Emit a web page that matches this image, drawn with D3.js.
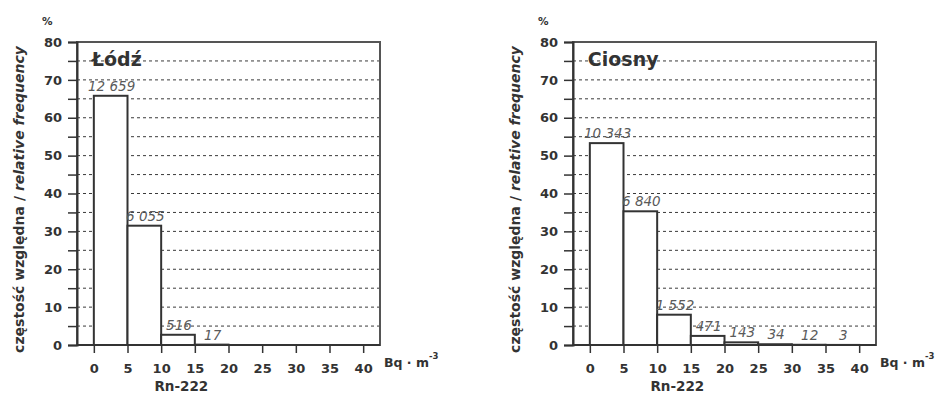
<!DOCTYPE html>
<html><head><meta charset="utf-8">
<script src="https://cdn.jsdelivr.net/npm/d3@7"></script>
<style>
html,body{margin:0;padding:0;background:#fff;}
svg{display:block;}
text{font-family:"DejaVu Sans",sans-serif;}
</style></head>
<body>
<svg id="c" width="939" height="393"></svg>
<script>
// ---- data ----
const binStarts = [0, 5, 10, 15, 20, 25, 30, 35];
const binWidth = 5;
const xTicks = [0, 5, 10, 15, 20, 25, 30, 35, 40];
const yTicksMajor = [0, 10, 20, 30, 40, 50, 60, 70, 80];
const yTicksMinor = [5, 15, 25, 35, 45, 55, 65, 75];
const lodzPct = [65.8, 31.5, 2.7, 0.1];
const lodzCounts = ["12 659", "6 055", "516", "17"];
const ciosnyPct = [53.3, 35.3, 8.0, 2.4, 0.7, 0.2, 0.06, 0.02];
const ciosnyCounts = ["10 343", "6 840", "1 552", "471", "143", "34", "12", "3"];
const titles = ["Łódź", "Ciosny"];
const yTitleA = "częstość względna / ";
const yTitleB = "relative frequency";
const xTitle = "Rn-222";
const unitA = "Bq · m";
const unitSup = "-3";

const svg = d3.select("#c");
const dark = "#333";

function panel(offset, title, pct, counts) {
  const g = svg.append("g").attr("transform", `translate(${offset},0)`);
  const x = d3.scaleLinear().domain([-2.5, 42.5]).range([77, 380]);
  const y = d3.scaleLinear().domain([0, 80]).range([345, 42]);

  // dashed grid
  g.selectAll(".grid").data(yTicksMinor.concat(yTicksMajor.filter(v => v > 0 && v < 80)))
    .enter().append("line")
    .attr("x1", x.range()[0]).attr("x2", x.range()[1])
    .attr("y1", d => y(d)).attr("y2", d => y(d))
    .attr("stroke", "#3a3a3a").attr("stroke-width", 1).attr("stroke-dasharray", "3,3");

  // frame
  g.append("rect").attr("x", x.range()[0]).attr("y", y(80))
    .attr("width", x.range()[1] - x.range()[0]).attr("height", y(0) - y(80))
    .attr("fill", "none").attr("stroke", "#555").attr("stroke-width", 2);

  // bars
  const bars = pct.map((v, i) => ({ s: binStarts[i], v: v, c: counts[i] }));
  g.selectAll(".bar").data(bars).enter().append("rect")
    .attr("x", d => x(d.s)).attr("width", d => x(d.s + binWidth) - x(d.s))
    .attr("y", d => y(d.v)).attr("height", d => y(0) - y(d.v))
    .attr("fill", "#fff").attr("stroke", dark).attr("stroke-width", 2);

  // bar labels
  g.selectAll(".bl").data(bars).enter().append("text")
    .attr("x", d => x(d.s + binWidth / 2) + 1).attr("y", d => y(d.v) - 5)
    .attr("text-anchor", "middle").attr("font-style", "italic")
    .attr("font-size", 13.5).attr("fill", "#5a5a5a").text(d => d.c);

  // y axis
  const ya = d3.axisLeft(y).tickValues(yTicksMajor.concat(yTicksMinor)).tickSize(9)
    .tickFormat(d => yTicksMajor.includes(d) ? d : "");
  const yg = g.append("g").attr("transform", `translate(${x.range()[0]},0)`).call(ya);
  yg.select(".domain").attr("stroke", dark).attr("stroke-width", 2);
  yg.selectAll(".tick line").attr("stroke", dark).attr("stroke-width", 1.5);
  yg.selectAll(".tick text").attr("font-family", "DejaVu Sans").attr("font-weight", "bold")
    .attr("font-size", 13).attr("fill", dark).attr("x", -15);

  // x axis
  const xa = d3.axisBottom(x).tickValues(xTicks).tickSize(8).tickPadding(11);
  const xg = g.append("g").attr("transform", `translate(0,${y(0)})`).call(xa);
  xg.select(".domain").attr("stroke", dark).attr("stroke-width", 2).attr("d", `M${x.range()[0]},0H${x.range()[1]}`);
  xg.selectAll(".tick line").attr("stroke", dark).attr("stroke-width", 1.5);
  xg.selectAll(".tick text").attr("font-family", "DejaVu Sans").attr("font-weight", "bold")
    .attr("font-size", 13).attr("fill", dark);

  // title
  g.append("text").attr("x", x(-0.3)).attr("y", y(73.6)).attr("font-weight", "bold")
    .attr("font-size", 19).attr("fill", dark).text(title);

  // percent sign
  g.append("text").attr("x", 42).attr("y", 25).attr("font-weight", "bold")
    .attr("font-size", 10.5).attr("fill", dark).text("%");

  // y title
  const yt = g.append("text").attr("transform", `translate(24,${(y(0) + y(80)) / 2 + 6}) rotate(-90)`)
    .attr("text-anchor", "middle").attr("font-weight", "bold").attr("font-size", 14).attr("fill", dark);
  yt.append("tspan").text(yTitleA);
  yt.append("tspan").attr("font-style", "italic").text(yTitleB);

  // x title
  g.append("text").attr("x", x(13)).attr("y", 391).attr("text-anchor", "middle")
    .attr("font-weight", "bold").attr("font-size", 13.5).attr("fill", dark).text(xTitle);

  // unit
  const u = g.append("text").attr("x", 384).attr("y", 367).attr("font-weight", "bold")
    .attr("font-size", 12.5).attr("fill", dark);
  u.append("tspan").text(unitA);
  u.append("tspan").attr("dy", -8).attr("font-size", 8.5).text(unitSup);
}

panel(0, titles[0], lodzPct, lodzCounts);
panel(496, titles[1], ciosnyPct, ciosnyCounts);
</script>
</body></html>
